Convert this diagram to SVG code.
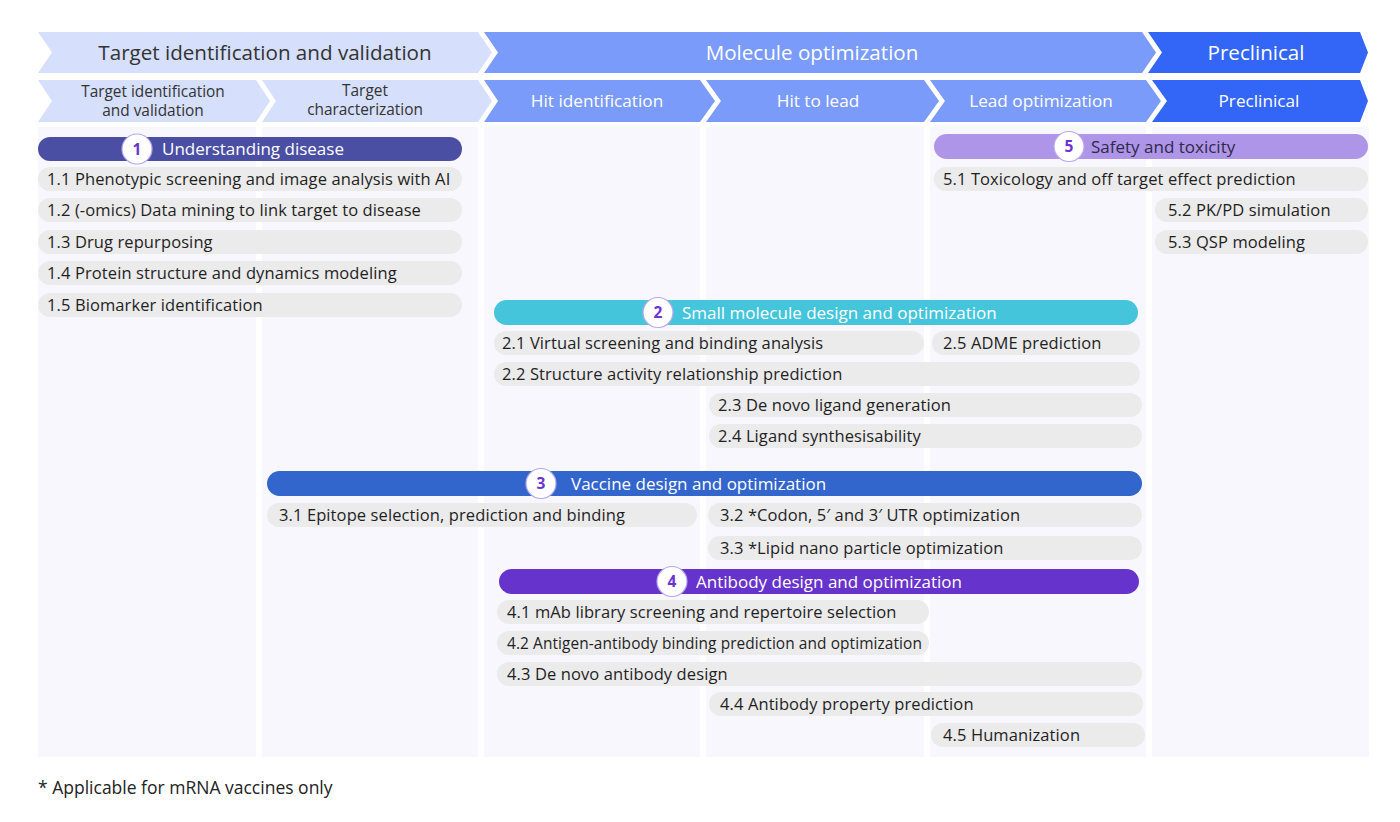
<svg xmlns="http://www.w3.org/2000/svg" width="1400" height="822" viewBox="0 0 1400 822">
<style>
text{font-family:"Open Sans","Noto Sans","DejaVu Sans",sans-serif;}
.colbg{fill:#F7F7FD;}
.hl{fill:#D6DFFC;}
.hm{fill:#7A9BFA;}
.hd{fill:#3366F7;}
.h1t{font-size:20.6px;}
.h2t{font-size:17.2px;}
.h2s{font-size:15.4px;}
.dk{fill:#333333;}
.wt{fill:#FFFFFF;}
.pill{fill:#EBEBEB;}
.it{font-size:16.5px;letter-spacing:0.1px;fill:#1F1F1F;}
.bt{font-size:17px;}
.num{fill:#FFFFFF;stroke:#B7A6F0;stroke-width:1.2;}
.nt{font-size:15.5px;font-weight:bold;fill:#6A35CF;text-anchor:middle;}
.foot{font-size:17.5px;fill:#222222;}
</style>
<rect width="1400" height="822" fill="#FFFFFF"/>
<g id="columns">
<rect class="colbg" x="38" y="127" width="218" height="630"/>
<rect class="colbg" x="262" y="127" width="216" height="630"/>
<rect class="colbg" x="484" y="127" width="216" height="630"/>
<rect class="colbg" x="706" y="127" width="218" height="630"/>
<rect class="colbg" x="930" y="127" width="216" height="630"/>
<rect class="colbg" x="1152" y="127" width="217" height="630"/>
</g>
<g id="phase-header">
<g id="ph-target">
<polygon class="hl" points="38,32 478,32 492,52.5 478,73 38,73 52,52.5"/>
<text class="h1t dk" x="265" y="59.5" text-anchor="middle">Target identification and validation</text>
</g>
<g id="ph-molecule">
<polygon class="hm" points="484,32 1142,32 1156,52.5 1142,73 484,73 498,52.5"/>
<text class="h1t wt" x="812" y="59.5" text-anchor="middle">Molecule optimization</text>
</g>
<g id="ph-preclinical">
<polygon class="hd" points="1148,32 1360,32 1368,52.5 1360,73 1148,73 1162,52.5"/>
<text class="h1t wt" x="1256" y="59.5" text-anchor="middle">Preclinical</text>
</g>
</g>
<g id="stage-header">
<g id="st-tiv">
<polygon class="hl" points="38,80 256,80 270,101 256,122 38,122 52,101"/>
<text class="h2s dk" x="153" y="97" text-anchor="middle">Target identification</text>
<text class="h2s dk" x="153" y="116" text-anchor="middle">and validation</text>
</g>
<g id="st-tc">
<polygon class="hl" points="262,80 478,80 492,101 478,122 262,122 276,101"/>
<text class="h2s dk" x="365" y="96" text-anchor="middle">Target</text>
<text class="h2s dk" x="365" y="115" text-anchor="middle">characterization</text>
</g>
<g id="st-hi">
<polygon class="hm" points="484,80 700,80 715,101 700,122 484,122 498,101"/>
<text class="h2t wt" x="597" y="107" text-anchor="middle">Hit identification</text>
</g>
<g id="st-hl">
<polygon class="hm" points="706,80 924,80 939,101 924,122 706,122 721,101"/>
<text class="h2t wt" x="818" y="107" text-anchor="middle">Hit to lead</text>
</g>
<g id="st-lo">
<polygon class="hm" points="930,80 1146,80 1161,101 1146,122 930,122 945,101"/>
<text class="h2t wt" x="1041" y="107" text-anchor="middle">Lead optimization</text>
</g>
<g id="st-pc">
<polygon class="hd" points="1152,80 1360,80 1368,101 1360,122 1152,122 1167,101"/>
<text class="h2t wt" x="1259" y="107" text-anchor="middle">Preclinical</text>
</g>
</g>
<g id="s1">
<rect x="38" y="137" width="424" height="24" rx="12" fill="#4A4FA4"/>
<circle class="num" cx="137" cy="149" r="15"/>
<text class="nt" x="137" y="154.5">1</text>
<text class="bt wt" x="162" y="155">Understanding disease</text>
</g>
<g id="s1-items">
<g id="i11"><rect class="pill" x="38" y="167" width="424" height="24" rx="12"/><text class="it" x="47" y="185">1.1 Phenotypic screening and image analysis with AI</text></g>
<g id="i12"><rect class="pill" x="38" y="198" width="424" height="24" rx="12"/><text class="it" x="47" y="216">1.2 (-omics) Data mining to link target to disease</text></g>
<g id="i13"><rect class="pill" x="38" y="230" width="424" height="24" rx="12"/><text class="it" x="47" y="248">1.3 Drug repurposing</text></g>
<g id="i14"><rect class="pill" x="38" y="261" width="424" height="24" rx="12"/><text class="it" x="47" y="279">1.4 Protein structure and dynamics modeling</text></g>
<g id="i15"><rect class="pill" x="38" y="293" width="424" height="24" rx="12"/><text class="it" x="47" y="311">1.5 Biomarker identification</text></g>
</g>
<g id="s5">
<rect x="934" y="134" width="434" height="25" rx="12.5" fill="#AE95E8"/>
<circle class="num" cx="1069" cy="146.5" r="15"/>
<text class="nt" x="1069" y="152">5</text>
<text class="bt" x="1091" y="153" fill="#2E2A48">Safety and toxicity</text>
</g>
<g id="s5-items">
<g id="i51"><rect class="pill" x="934" y="167" width="434" height="24" rx="12"/><text class="it" x="943" y="185">5.1 Toxicology and off target effect prediction</text></g>
<g id="i52"><rect class="pill" x="1155" y="198" width="213" height="24" rx="12"/><text class="it" x="1168" y="216">5.2 PK/PD simulation</text></g>
<g id="i53"><rect class="pill" x="1155" y="230" width="213" height="24" rx="12"/><text class="it" x="1168" y="248">5.3 QSP modeling</text></g>
</g>
<g id="s2">
<rect x="494" y="300" width="644" height="25" rx="12.5" fill="#44C5DB"/>
<circle class="num" cx="658" cy="312.5" r="15"/>
<text class="nt" x="658" y="318">2</text>
<text class="bt wt" x="682" y="319">Small molecule design and optimization</text>
</g>
<g id="s2-items">
<g id="i21"><rect class="pill" x="494" y="331" width="430" height="24" rx="12"/><text class="it" x="502" y="349">2.1 Virtual screening and binding analysis</text></g>
<g id="i25"><rect class="pill" x="932" y="331" width="208" height="24" rx="12"/><text class="it" x="943" y="349">2.5 ADME prediction</text></g>
<g id="i22"><rect class="pill" x="494" y="362" width="646" height="24" rx="12"/><text class="it" x="502" y="380">2.2 Structure activity relationship prediction</text></g>
<g id="i23"><rect class="pill" x="709" y="393" width="433" height="24" rx="12"/><text class="it" x="718" y="411">2.3 De novo ligand generation</text></g>
<g id="i24"><rect class="pill" x="709" y="424" width="433" height="24" rx="12"/><text class="it" x="718" y="442">2.4 Ligand synthesisability</text></g>
</g>
<g id="s3">
<rect x="267" y="471" width="875" height="25" rx="12.5" fill="#3366CC"/>
<circle class="num" cx="541" cy="483.5" r="15"/>
<text class="nt" x="541" y="489">3</text>
<text class="bt wt" x="571" y="490">Vaccine design and optimization</text>
</g>
<g id="s3-items">
<g id="i31"><rect class="pill" x="267" y="503" width="430" height="24" rx="12"/><text class="it" x="279" y="521">3.1 Epitope selection, prediction and binding</text></g>
<g id="i32"><rect class="pill" x="708" y="503" width="434" height="24" rx="12"/><text class="it" x="720" y="521">3.2 *Codon, 5′ and 3′ UTR optimization</text></g>
<g id="i33"><rect class="pill" x="708" y="536" width="434" height="24" rx="12"/><text class="it" x="720" y="554">3.3 *Lipid nano particle optimization</text></g>
</g>
<g id="s4">
<rect x="499" y="569" width="640" height="25" rx="12.5" fill="#6633CC"/>
<circle class="num" cx="672" cy="581.5" r="15"/>
<text class="nt" x="672" y="587">4</text>
<text class="bt wt" x="696" y="588">Antibody design and optimization</text>
</g>
<g id="s4-items">
<g id="i41"><rect class="pill" x="497" y="600" width="432" height="24" rx="12"/><text class="it" x="507" y="618">4.1 mAb library screening and repertoire selection</text></g>
<g id="i42"><rect class="pill" x="497" y="631" width="432" height="24" rx="12"/><text class="it" x="507" y="649" textLength="415" lengthAdjust="spacingAndGlyphs">4.2 Antigen-antibody binding prediction and optimization</text></g>
<g id="i43"><rect class="pill" x="497" y="662" width="645" height="24" rx="12"/><text class="it" x="507" y="680">4.3 De novo antibody design</text></g>
<g id="i44"><rect class="pill" x="709" y="692" width="434" height="24" rx="12"/><text class="it" x="720" y="710">4.4 Antibody property prediction</text></g>
<g id="i45"><rect class="pill" x="931" y="723" width="214" height="24" rx="12"/><text class="it" x="943" y="741">4.5 Humanization</text></g>
</g>
<g id="connectors"/>
<g id="footnote">
<text class="foot" x="38" y="794">* Applicable for mRNA vaccines only</text>
</g>
</svg>
